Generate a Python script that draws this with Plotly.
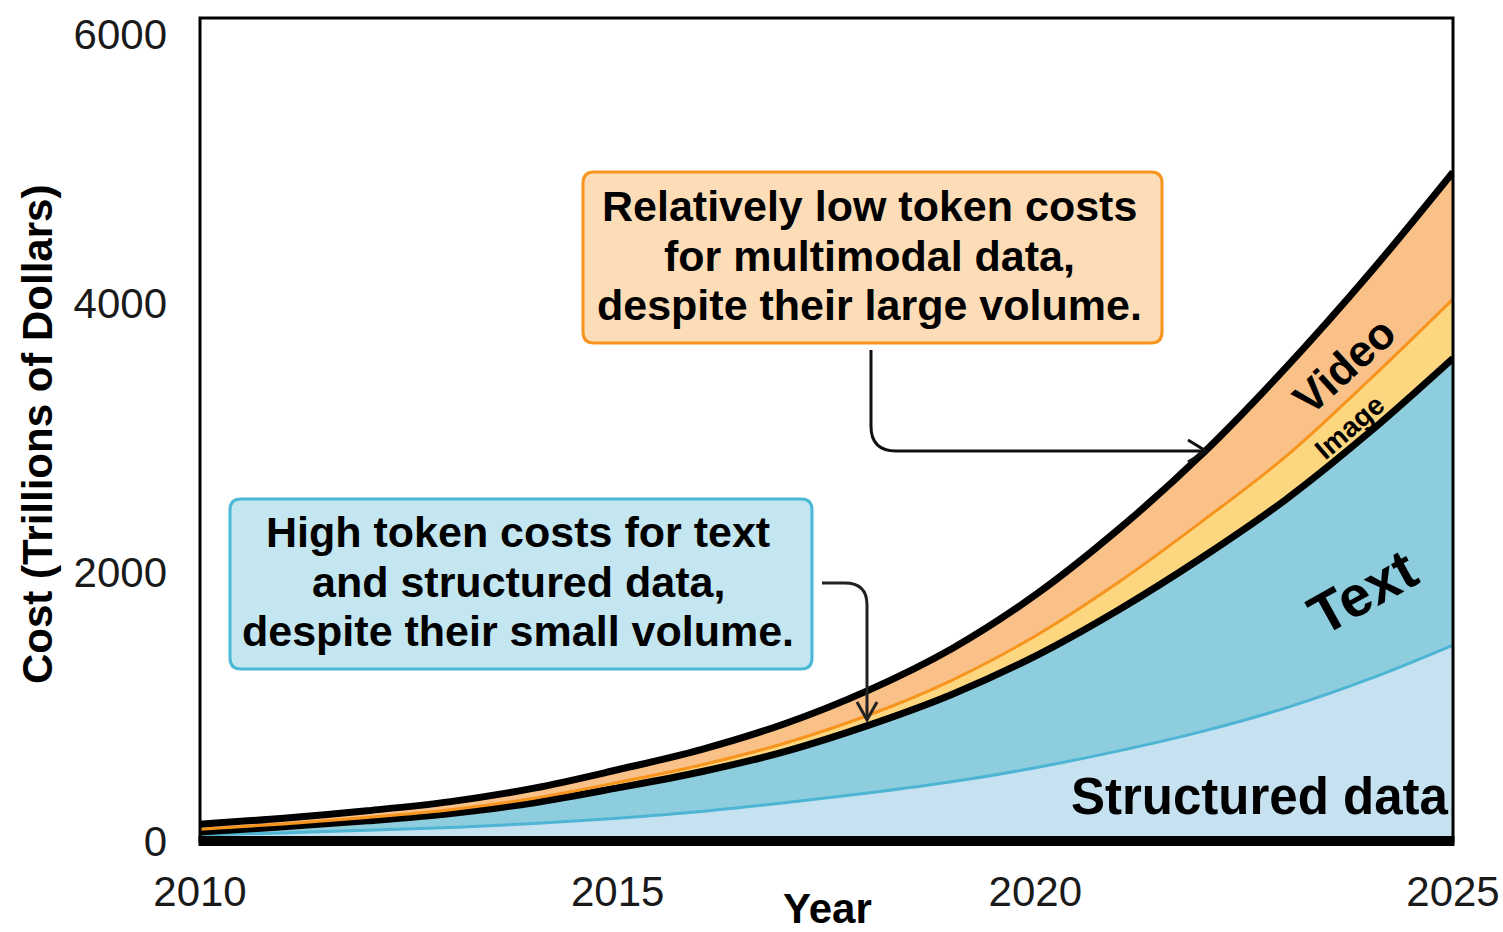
import plotly.graph_objects as go

# ---------------- data ----------------
years = list(range(2010, 2026))
structured_data = [45, 60, 80, 100, 130, 170, 220, 285, 357, 440, 545, 670, 815, 990, 1205, 1457]
text_data = [22, 45, 70, 105, 155, 225, 295, 380, 503, 650, 830, 1050, 1295, 1550, 1835, 2133]
image_data = [20, 22, 25, 28, 33, 40, 50, 62, 75, 105, 150, 206, 269, 320, 390, 440]
video_data = [38, 42, 50, 60, 75, 95, 115, 145, 185, 235, 305, 394, 500, 660, 790, 944]

x_ticks = [2010, 2015, 2020, 2025]
y_ticks = [0, 2000, 4000, 6000]

# ---------------- geometry / style ----------------
W, H = 1503, 932
L, R, T, B = 200, 50, 18, 91
PW, PH = W - L - R, H - T - B
FONT = "Liberation Sans, Arial, sans-serif"


def px(x):
    return (x - L) / PW


def py(y):
    return (H - B - y) / PH


fig = go.Figure()

series = [
    ("Structured data", structured_data, "#C6E2F0", "#4DB4D4", 3),
    ("Text", text_data, "#8ECDDD", "#000000", 7),
    ("Image", image_data, "#FDD680", "#F7941D", 3),
    ("Video", video_data, "#F9C087", "#000000", 7),
]
for name, vals, fillc, linec, lw in series:
    fig.add_trace(go.Scatter(
        x=years, y=vals, name=name, mode="lines", stackgroup="one",
        fillcolor=fillc, line=dict(color=linec, width=lw, shape="spline", smoothing=1.0),
        hoverinfo="skip",
    ))


def path(cmds):
    s = ""
    for cmd, ps in cmds:
        s += cmd + " " + " ".join(f"{px(a):.5f},{py(b):.5f}" for a, b in ps) + " "
    return s


def rrect(x0, y0, x1, y1, r):
    return path([
        ("M", [(x0 + r, y0)]), ("L", [(x1 - r, y0)]), ("Q", [(x1, y0), (x1, y0 + r)]),
        ("L", [(x1, y1 - r)]), ("Q", [(x1, y1), (x1 - r, y1)]), ("L", [(x0 + r, y1)]),
        ("Q", [(x0, y1), (x0, y1 - r)]), ("L", [(x0, y0 + r)]), ("Q", [(x0, y0), (x0 + r, y0)]),
    ]) + "Z"


shapes = []
# annotation boxes
shapes.append(dict(type="path", xref="paper", yref="paper", path=rrect(583, 172, 1162, 343, 11),
                   fillcolor="#FDDDB8", line=dict(color="#F7941D", width=3), layer="above"))
shapes.append(dict(type="path", xref="paper", yref="paper", path=rrect(230, 499, 812, 669, 11),
                   fillcolor="#C3E6F0", line=dict(color="#4AB8D6", width=3), layer="above"))
# orange-box arrow
shapes.append(dict(type="path", xref="paper", yref="paper",
                   path=path([("M", [(871, 350)]), ("L", [(871, 426)]), ("Q", [(871, 451), (896, 451)]),
                              ("L", [(1205, 451)])]),
                   line=dict(color="#111111", width=3), layer="above"))
shapes.append(dict(type="path", xref="paper", yref="paper",
                   path=path([("M", [(1188, 440)]), ("L", [(1206, 451)]), ("L", [(1188, 462)])]),
                   line=dict(color="#111111", width=3), layer="above"))
# blue-box arrow
shapes.append(dict(type="path", xref="paper", yref="paper",
                   path=path([("M", [(822, 583)]), ("L", [(845, 583)]), ("Q", [(867, 583), (867, 605)]),
                              ("L", [(867, 719)])]),
                   line=dict(color="#222222", width=3), layer="above"))
shapes.append(dict(type="path", xref="paper", yref="paper",
                   path=path([("M", [(857, 702)]), ("L", [(867, 720)]), ("L", [(877, 702)])]),
                   line=dict(color="#222222", width=3), layer="above"))
# frame
shapes.append(dict(type="rect", xref="paper", yref="paper", x0=0, y0=0, x1=1, y1=1,
                   line=dict(color="black", width=3), layer="above"))
shapes.append(dict(type="line", xref="paper", yref="paper", x0=px(198.5), x1=px(1454.5), y0=0, y1=0,
                   line=dict(color="black", width=10), layer="above"))

ann = []


def add_text(text, x, y, size, angle=0, bold=True, color="#000000"):
    ann.append(dict(text=(f"<b>{text}</b>" if bold else text), x=px(x), y=py(y), xref="paper", yref="paper",
                    xanchor="center", yanchor="middle", showarrow=False, textangle=angle,
                    font=dict(family=FONT, size=size, color=color)))


for i, line in enumerate(["Relatively low token costs", "for multimodal data,", "despite their large volume."]):
    add_text(line, 869, [206, 256, 305][i], 43)
for i, line in enumerate(["High token costs for text", "and structured data,", "despite their small volume."]):
    add_text(line, 518, [532, 582, 631][i], 43)

add_text("Video", 1344, 366, 44, angle=-42)
add_text("Image", 1349, 427, 28, angle=-41)
add_text("Text", 1362, 592, 57, angle=-29)
add_text("Structured data", 1260, 796, 51)

# axis titles
add_text("Year", 827, 909, 42)
add_text("Cost (Trillions of Dollars)", 37, 435, 42, angle=-90)

fig.update_layout(
    template="none",
    width=W, height=H, autosize=False,
    margin=dict(l=L, r=R, t=T, b=B, pad=0, autoexpand=False),
    paper_bgcolor="white", plot_bgcolor="white",
    showlegend=False,
    shapes=shapes, annotations=ann,
    xaxis=dict(range=[2010, 2025], tickvals=x_ticks, ticktext=[str(v) for v in x_ticks],
               showgrid=False, zeroline=False, showline=False, ticks="", automargin=False,
               tickfont=dict(family=FONT, size=42, color="#1a1a1a"), ticklabelstandoff=22),
    yaxis=dict(range=[0, 6120], tickvals=y_ticks, ticktext=[str(v) for v in y_ticks],
               showgrid=False, zeroline=False, showline=False, ticks="", automargin=False,
               tickfont=dict(family=FONT, size=42, color="#1a1a1a"), ticklabelstandoff=32),
)

fig.write_html("out.html", config={"displayModeBar": False},
               post_script="document.body.style.margin='0px';document.body.style.overflow='hidden';")
